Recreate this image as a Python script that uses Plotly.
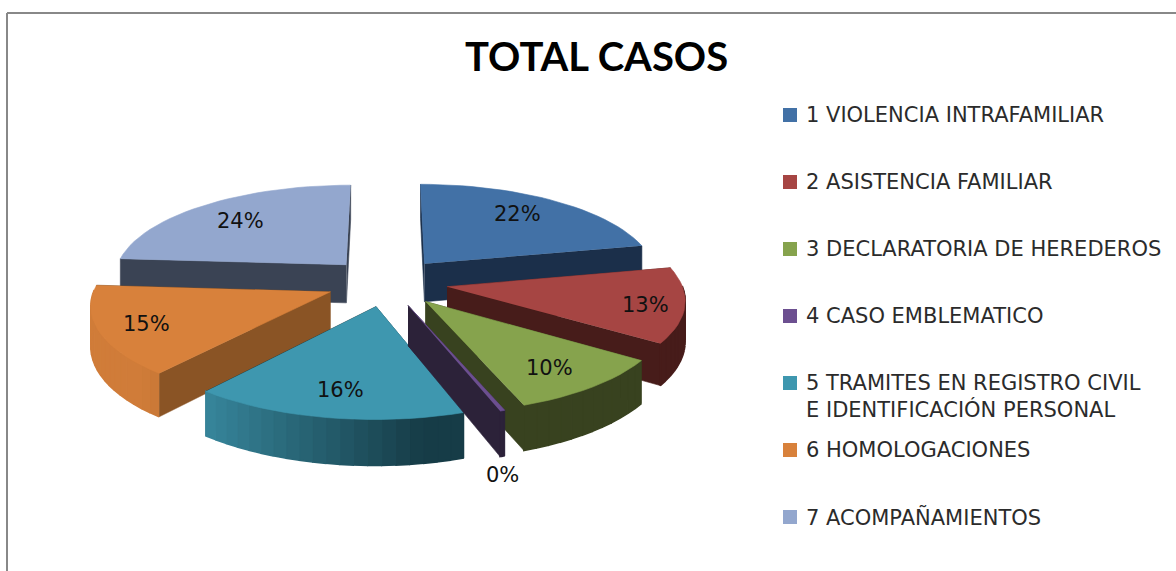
import numpy as np
import plotly.graph_objects as go

categories = [
    "1 VIOLENCIA INTRAFAMILIAR",
    "2 ASISTENCIA FAMILIAR",
    "3 DECLARATORIA DE HEREDEROS",
    "4 CASO EMBLEMATICO",
    "5 TRAMITES EN REGISTRO CIVIL<br>E IDENTIFICACIÓN PERSONAL",
    "6 HOMOLOGACIONES",
    "7 ACOMPAÑAMIENTOS",
]
values = [21.7, 12.8, 9.9, 0.3, 16.2, 15.2, 23.9]

top_colors = ["#4271A6", "#A64543", "#86A34D", "#6C4F90", "#3E97AF", "#D8813B", "#93A7CE"]
wall_colors = ["#1B2F4A", "#471C1A", "#38421F", "#2C2239", "#163C47", "#8A5425", "#3A4354"]

# projection of the tilted pie, in pixels
CX, CY = 387, 282
RX, RY = 234, 93
PERSP = 0.12
DEPTH = 39
EXPLODE = 0.26
draw_order = [6, 0, 5, 1, 4, 2, 3]
label_r = [0.68, 0.78, 0.62, 1.32, 0.62, 0.72, 0.62]
label_dx = [3, 14, 24, -36, -6, -20, -16]
label_dy = [-6, 4, 16, 24, 18, 4, -5]


def project(u, v, h=0.0):
    s = 1 / (1 - PERSP * v)
    return CX + RX * u * s, CY + RY * v * s + h * DEPTH * s


def hex_rgb(c):
    return np.array([int(c[i:i + 2], 16) for i in (1, 3, 5)], dtype=float)


def mix(a, b, t):
    r, g, b_ = hex_rgb(a) * (1 - t) + hex_rgb(b) * t
    return f"rgb({r:.0f},{g:.0f},{b_:.0f})"


def add_poly(fig, pts, color, width=0.6):
    xs = [p[0] for p in pts]
    ys = [p[1] for p in pts]
    fig.add_trace(go.Scatter(
        x=xs, y=ys, mode="lines", fill="toself", fillcolor=color,
        line=dict(color=color, width=width), showlegend=False, hoverinfo="skip",
    ))


fig = go.Figure()

fractions = np.array(values) / sum(values) * 2 * np.pi
ends = np.cumsum(fractions)
starts = ends - fractions
annotations = []

for i in draw_order:
    a0, a1 = starts[i], ends[i]
    mid = (a0 + a1) / 2
    ox, oy = EXPLODE * np.sin(mid), -EXPLODE * np.cos(mid)
    angles = np.linspace(a0, a1, max(3, int(np.degrees(a1 - a0) / 3) + 2))
    arc_u = ox + np.sin(angles)
    arc_v = oy - np.cos(angles)

    # radial cut faces, far one first
    faces = sorted([0, -1], key=lambda k: arc_v[k])
    for k in faces:
        add_poly(fig, [project(ox, oy), project(arc_u[k], arc_v[k]),
                       project(arc_u[k], arc_v[k], 1), project(ox, oy, 1)], wall_colors[i])

    # rounded outer wall, shaded from left to right
    for j in range(len(angles) - 1):
        if -np.cos((angles[j] + angles[j + 1]) / 2) < -0.02:
            continue
        t = float(np.clip((0.2 - np.sin(angles[j])) / 0.9, 0, 1))
        add_poly(fig, [project(arc_u[j], arc_v[j]), project(arc_u[j + 1], arc_v[j + 1]),
                       project(arc_u[j + 1], arc_v[j + 1], 1), project(arc_u[j], arc_v[j], 1)],
                 mix(wall_colors[i], top_colors[i], t * 0.9), width=1.6)

    top = [project(ox, oy)] + [project(u, v) for u, v in zip(arc_u, arc_v)]
    add_poly(fig, top, top_colors[i])

    lx, ly = project(ox + label_r[i] * np.sin(mid), oy - label_r[i] * np.cos(mid))
    annotations.append(dict(x=lx + label_dx[i], y=ly + label_dy[i], text=f"{values[i]:.0f}%",
                            showarrow=False,
                            font=dict(family="DejaVu Sans", size=21, color="#111111")))

# legend keys and labels
legend_y = [115, 182, 249, 316, 383, 450, 517]
fig.add_trace(go.Scatter(
    x=[790] * len(categories), y=legend_y, mode="markers",
    marker=dict(symbol="square", size=14, color=top_colors),
    showlegend=False, hoverinfo="skip",
))
for name, y in zip(categories, legend_y):
    annotations.append(dict(x=804, y=y, text=name, showarrow=False, xanchor="left",
                            yanchor="top" if "<br>" in name else "middle",
                            yshift=14 if "<br>" in name else 0,
                            align="left",
                            font=dict(family="DejaVu Sans", size=21, color="#2B2B2B")))

annotations.append(dict(x=596, y=56, text="<b>TOTAL CASOS</b>", showarrow=False,
                        font=dict(family="Lato", size=40, color="#000000")))

fig.update_layout(
    width=1176, height=571,
    margin=dict(l=0, r=0, t=0, b=0),
    paper_bgcolor="white", plot_bgcolor="white",
    xaxis=dict(range=[0, 1176], visible=False),
    yaxis=dict(range=[571, 0], visible=False),
    annotations=annotations,
    shapes=[
        dict(type="line", x0=7, x1=7, y0=13, y1=571, line=dict(color="#888888", width=2)),
        dict(type="line", x0=7, x1=1176, y0=13, y1=13, line=dict(color="#888888", width=2)),
    ],
)

fig.write_html("out.html", config=dict(displayModeBar=False),
               post_script="document.body.style.margin='0';")
